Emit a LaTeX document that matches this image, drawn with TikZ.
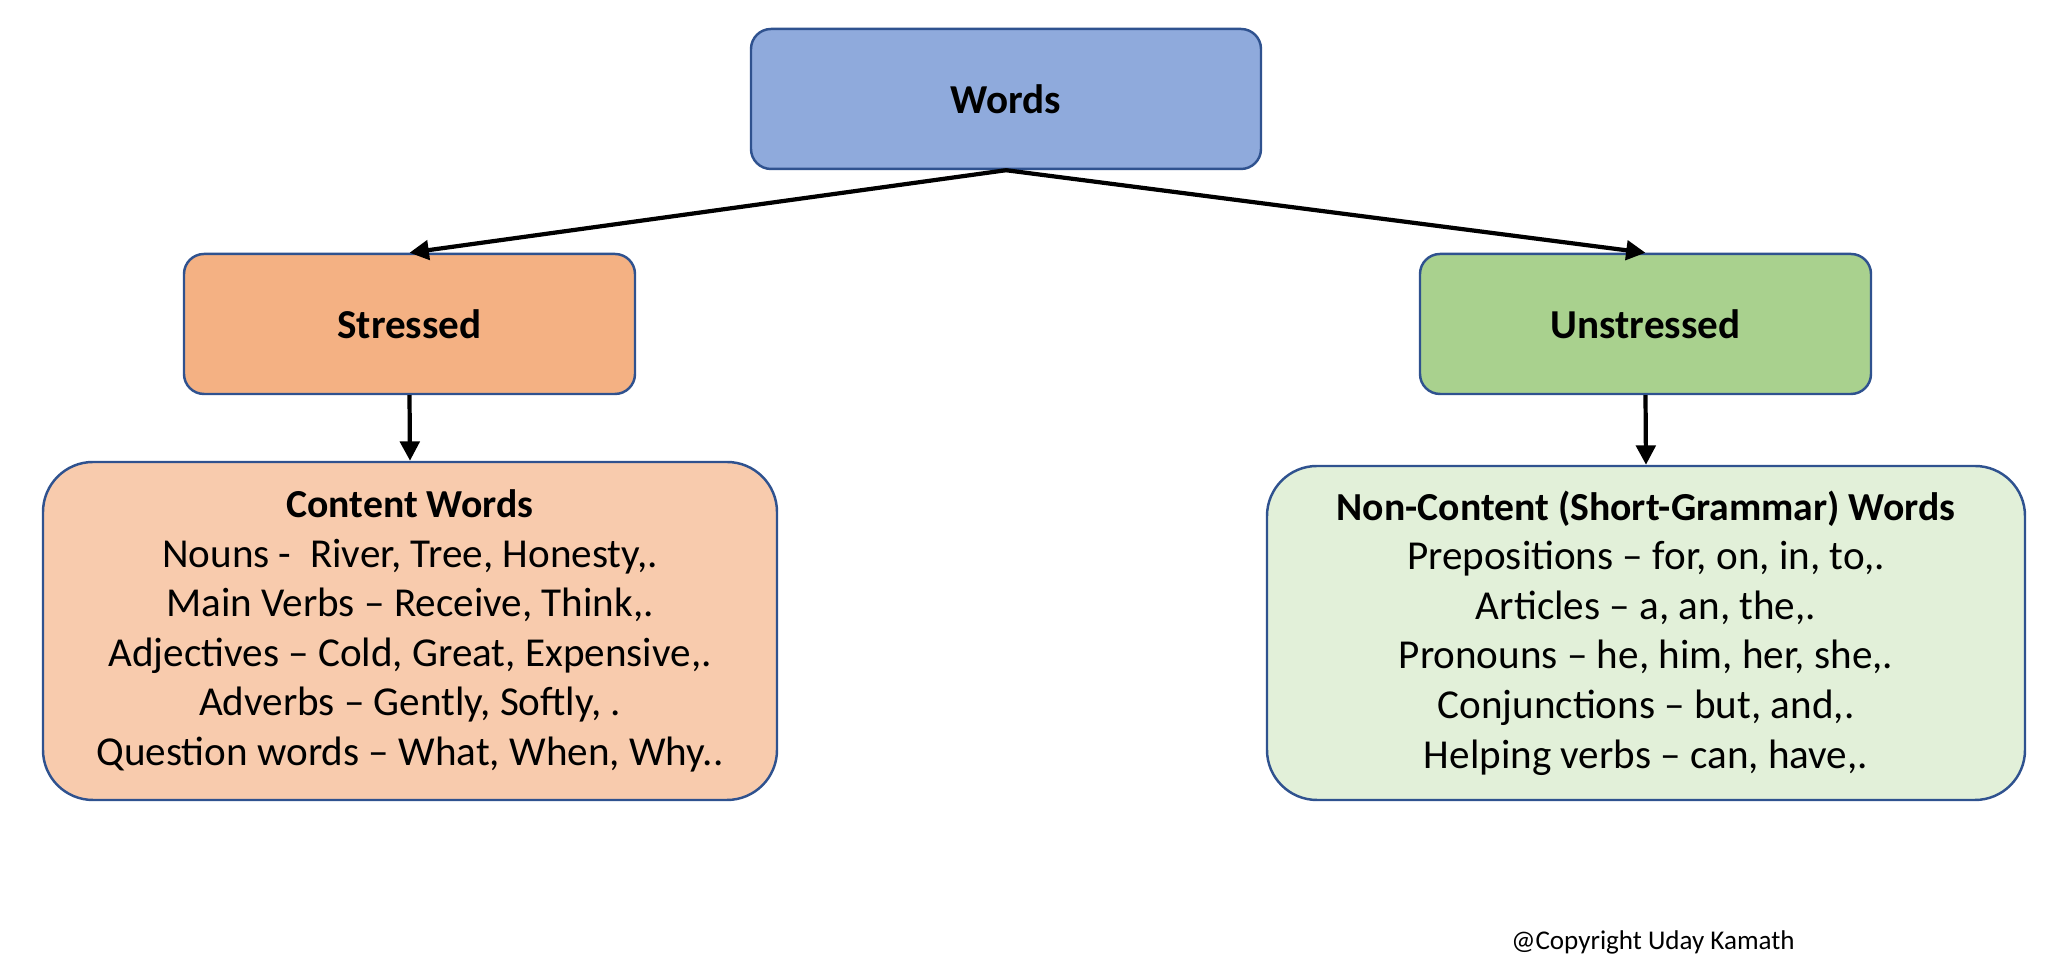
\documentclass[tikz,border=0pt]{standalone}
\usepackage{fontspec}
\setmainfont{Carlito}
\usetikzlibrary{arrows.meta}
\definecolor{edgeblue}{HTML}{2F528F}
\definecolor{wordsfill}{HTML}{8FAADC}
\definecolor{stressfill}{HTML}{F4B183}
\definecolor{unstressfill}{HTML}{A9D18E}
\definecolor{contentfill}{HTML}{F8CBAD}
\definecolor{noncontentfill}{HTML}{E2F0D9}
\newcommand{\listtitle}[1]{{\fontsize{11.3}{14.1}\selectfont\bfseries #1}}
\tikzset{
    headbox/.style={draw=edgeblue, line width=0.7pt, rounded corners=0.2cm,
        minimum height=1.4cm, inner sep=0pt,
        font=\fontsize{11.7}{14}\selectfont\bfseries},
    listbox/.style={draw=edgeblue, line width=0.7pt, rounded corners=0.5cm,
        inner sep=0pt, align=center,
        font=\fontsize{11.7}{14.1}\selectfont},
    tree/.style={-{Triangle[length=5.5pt,width=5.5pt]}, line width=1.2pt}
}
\begin{document}
\begin{tikzpicture}
                \useasboundingbox (0,0) rectangle (20.66,9.62);
                \node[headbox, fill=wordsfill, minimum width=5.1cm] (words) at (10.06,8.63) {Words};
                \node[headbox, fill=stressfill, minimum width=4.51cm] (stressed) at (4.095,6.38) {Stressed};
                \node[headbox, fill=unstressfill, minimum width=4.51cm] (unstressed) at (16.455,6.38) {Unstressed};
                \node[listbox, fill=contentfill, minimum width=7.34cm, minimum height=3.38cm] (content) at (4.10,3.31) {
                    \listtitle{Content Words}\\
                    Nouns -\ \ River, Tree, Honesty,.\\
                    Main Verbs – Receive, Think,.\\
                    Adjectives – Cold, Great, Expensive,.\\
                    Adverbs – Gently, Softly, .\\
                    Question words – What, When, Why..
                };
                \node[listbox, fill=noncontentfill, minimum width=7.58cm, minimum height=3.34cm] (noncontent) at (16.46,3.29) {
                    \listtitle{Non-Content (Short-Grammar) Words}\\
                    Prepositions – for, on, in, to,.\\
                    Articles – a, an, the,.\\
                    Pronouns – he, him, her, she,.\\
                    Conjunctions – but, and,.\\
                    Helping verbs – can, have,.
                };
                \node[font=\fontsize{7.7}{9}\selectfont] (copyright) at (16.53,0.20) {@Copyright Uday Kamath};
                \draw[tree] (words.south) -- (stressed.north);
                \draw[tree] (words.south) -- (unstressed.north);
                \draw[tree] (stressed.south) -- (content.north);
                \draw[tree] (unstressed.south) -- (noncontent.north);
            \end{tikzpicture}
\end{document}
